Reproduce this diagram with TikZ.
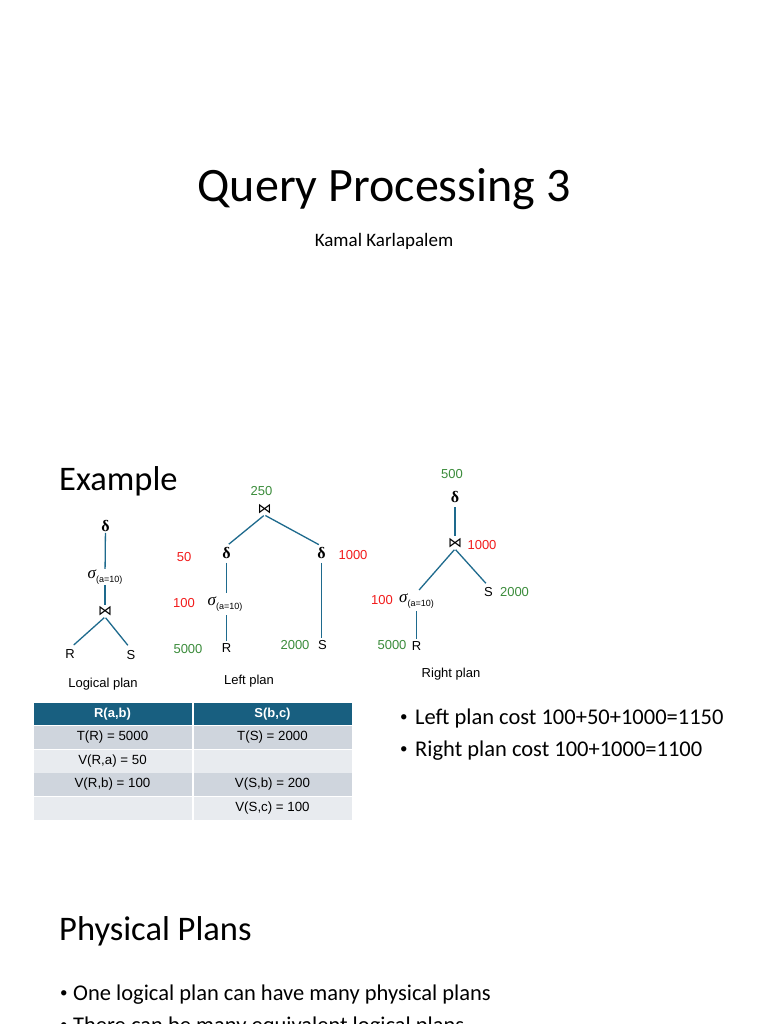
\documentclass[tikz,border=0pt]{standalone}
\usepackage{fontspec}
\setmainfont{Carlito}
\newfontfamily\arialf{Liberation Sans}
\newfontfamily\timesf{Liberation Serif}
\newfontfamily\dejavuf{DejaVu Sans}
\newcommand{\fsz}[1]{\fontsize{#1}{#1}\selectfont}
\newcommand{\mydelta}{{\timesf\bfseries\fsz{16}δ}}
\newcommand{\mysigma}{{\timesf\itshape\fsz{17}σ}\raisebox{-0.45ex}{\arialf\fsz{9}(a=10)}}
\newcommand{\myjoin}{{\dejavuf\fsz{14}⋈}}
\newcommand{\mybul}[1]{\makebox[#1][l]{\raisebox{0.2ex}{\fsz{15}•}}}
\definecolor{linecol}{HTML}{1E6A8D}
\definecolor{headcol}{HTML}{185F80}
\definecolor{costred}{HTML}{F21B1B}
\definecolor{costgreen}{HTML}{3B8C3B}
\definecolor{rowdark}{HTML}{CFD5DD}
\definecolor{rowlight}{HTML}{E8EBEF}
\tikzset{
  tn/.style={inner sep=1pt, font=\arialf\fsz{13}},
  cr/.style={tn, text=costred},
  cg/.style={tn, text=costgreen},
  edge/.style={draw=linecol, line width=1.3pt},
  headcell/.style={fill=headcol, text=white, font=\arialf\bfseries\fsz{13}, minimum width=158pt, minimum height=22pt, inner sep=0pt},
  darkcell/.style={fill=rowdark, font=\arialf\fsz{13.3}, minimum width=158pt, minimum height=23pt, inner sep=0pt},
  lightcell/.style={fill=rowlight, font=\arialf\fsz{13.3}, minimum width=158pt, minimum height=23pt, inner sep=0pt},
  bul/.style={anchor=base west, inner sep=0pt, font=\fsz{22.5}},
}
\begin{document}
\begin{tikzpicture}[x=1pt,y=-1pt]
\useasboundingbox (0,0) rectangle (768,1024);
\clip (0,0) rectangle (768,1024);
\fill[white] (0,0) rectangle (768,1024);
% slide 1
\node[anchor=base, inner sep=0pt] (title) at (384,202) {\fsz{48}Query Processing 3};
\node[anchor=base, inner sep=0pt] (author) at (384,246) {\fsz{19}Kamal Karlapalem};
% slide 2
\node[anchor=base west, inner sep=0pt] (example) at (59,490) {\fsz{34.5}Example};
% logical plan
\node[tn] (lgd) at (105.5,526) {\mydelta};
\node[tn] (lgs) at (105,577) {\mysigma};
\node[tn] (lgj) at (105,611) {\myjoin};
\node[tn] (lgr) at (70,654) {R};
\node[tn] (lgS) at (131,655) {S};
\node[tn] (lgcap) at (103,684) {Logical plan};
\draw[edge] (lgd) -- (lgs);
\draw[edge] (lgs) -- (lgj);
\draw[edge, shorten <=1pt, shorten >=5pt] (lgj.south) -- (lgr.north);
\draw[edge, shorten <=1pt, shorten >=5pt] (lgj.south) -- (lgS.north);
% left plan
\node[cg] (l250) at (261.5,491) {250};
\node[tn] (lj) at (264.5,509) {\myjoin};
\node[tn] (ld1) at (226.5,553) {\mydelta};
\node[tn] (ld2) at (321.5,553) {\mydelta};
\node[cr] (l50) at (184,557) {50};
\node[cr] (l1000) at (353,555) {1000};
\node[tn] (ls) at (225,604) {\mysigma};
\node[cr] (l100) at (184,603) {100};
\node[tn] (lr) at (226.5,648) {R};
\node[cg] (l5000) at (188,649) {5000};
\node[tn] (lS) at (322.5,645) {S};
\node[cg] (l2000) at (295,645) {2000};
\node[tn] (lcap) at (249,681.5) {Left plan};
\draw[edge, shorten <=1pt, shorten >=3pt] (lj.south) -- (ld1.north);
\draw[edge, shorten <=1pt, shorten >=3pt] (lj.south) -- (ld2.north);
\draw[edge, shorten <=3pt, shorten >=3pt] (ld1) -- (ld1 |- ls.north);
\draw[edge, shorten <=3pt, shorten >=1pt] (ld1 |- ls.south) -- (lr);
\draw[edge, shorten <=3pt, shorten >=1pt] (ld2.south) -- (ld2 |- lS.north);
% right plan
\node[cg] (r500) at (452,474) {500};
\node[tn] (rd) at (455,497) {\mydelta};
\node[tn] (rj) at (455,543) {\myjoin};
\node[cr] (r1000) at (482,545.5) {1000};
\node[tn] (rS) at (488.5,592) {S};
\node[cg] (r2000) at (514.5,592) {2000};
\node[tn] (rs) at (416.5,601) {\mysigma};
\node[cr] (r100) at (382,600.5) {100};
\node[tn] (rr) at (416.5,646) {R};
\node[cg] (r5000) at (392,645.5) {5000};
\node[tn] (rcap) at (451,674) {Right plan};
\draw[edge, shorten <=3pt, shorten >=1pt] (rd) -- (rj);
\draw[edge, shorten <=1pt, shorten >=4pt] (rj.south) -- (rs.north);
\draw[edge, shorten <=1pt, shorten >=4pt] (rj.south) -- (rS.north);
\draw[edge, shorten <=2pt, shorten >=1pt] (rs) -- (rr);
% table
\node[headcell] (h1) at (112.5,714) {R(a,b)};
\node[headcell] (h2) at (272.5,714) {S(b,c)};
\node[darkcell] (c11) at (112.5,737.5) {T(R) = 5000};
\node[darkcell] (c12) at (272.5,737.5) {T(S) = 2000};
\node[lightcell] (c21) at (112.5,761) {V(R,a) = 50};
\node[lightcell] (c22) at (272.5,761) {};
\node[darkcell] (c31) at (112.5,784.5) {V(R,b) = 100};
\node[darkcell] (c32) at (272.5,784.5) {V(S,b) = 200};
\node[lightcell] (c41) at (112.5,808) {};
\node[lightcell] (c42) at (272.5,808) {V(S,c) = 100};
% cost bullets
\node[bul] (b1) at (400,724) {\mybul{15pt}Left plan cost 100+50+1000=1150};
\node[bul] (b2) at (400,756) {\mybul{15pt}Right plan cost 100+1000=1100};
% slide 3
\node[anchor=base west, inner sep=0pt] (phys) at (59,940) {\fsz{34.5}Physical Plans};
\node[bul] (b3) at (60,1000) {\mybul{13pt}One logical plan can have many physical plans};
\node[bul] (b4) at (60,1032) {\mybul{13pt}There can be many equivalent logical plans};
\end{tikzpicture}
\end{document}
